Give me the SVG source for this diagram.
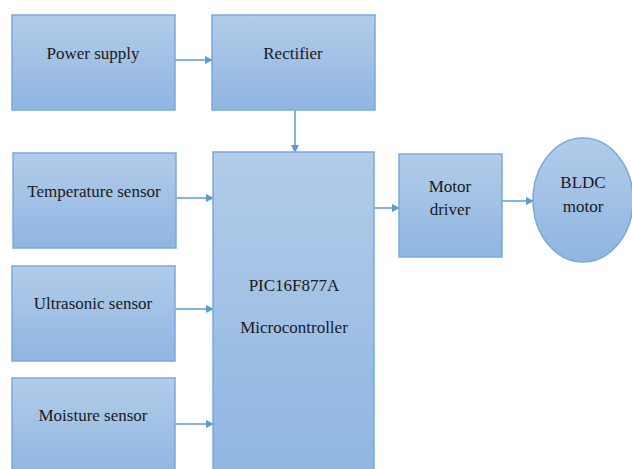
<svg xmlns="http://www.w3.org/2000/svg" width="632" height="469" viewBox="0 0 632 469">
<defs>
<linearGradient id="g" x1="0" y1="0" x2="0" y2="1">
<stop offset="0" stop-color="#b2cce9"/>
<stop offset="1" stop-color="#8fb5e1"/>
</linearGradient>
<marker id="ah" markerWidth="8" markerHeight="8" refX="7" refY="4" orient="auto" markerUnits="userSpaceOnUse">
<path d="M0,0 L8,4 L0,8 Z" fill="#5b9bd5"/>
</marker>
<style>
.box{fill:url(#g);stroke:#7aa9dc;stroke-width:1.5}
.t{font-size:17px;fill:#1a1a1a;text-anchor:middle}
.c{stroke:#5b9bd5;stroke-width:1.5;fill:none;marker-end:url(#ah)}
</style>
</defs>
<rect width="632" height="469" fill="#ffffff"/>
<g id="connectors">
<line class="c" x1="175" y1="60" x2="212" y2="60"/>
<line class="c" x1="295" y1="110" x2="295" y2="152"/>
<line class="c" x1="176" y1="198" x2="213" y2="198"/>
<line class="c" x1="175" y1="309" x2="213" y2="309"/>
<line class="c" x1="175" y1="424" x2="213" y2="424"/>
<line class="c" x1="374" y1="208" x2="399" y2="208"/>
<line class="c" x1="502" y1="201" x2="533" y2="201"/>
</g>
<g font-family="Liberation Serif, DejaVu Serif, serif">
<g id="power-supply">
<rect class="box" x="12" y="15" width="163" height="95"/>
<text class="t" x="93" y="59">Power supply</text>
</g>
<g id="rectifier">
<rect class="box" x="212" y="15" width="163" height="95"/>
<text class="t" x="293" y="59">Rectifier</text>
</g>
<g id="temperature-sensor">
<rect class="box" x="13" y="153" width="163" height="95"/>
<text class="t" x="94" y="197">Temperature sensor</text>
</g>
<g id="ultrasonic-sensor">
<rect class="box" x="12" y="266" width="163" height="95"/>
<text class="t" x="93" y="309">Ultrasonic sensor</text>
</g>
<g id="moisture-sensor">
<rect class="box" x="12" y="378" width="163" height="100"/>
<text class="t" x="93" y="421">Moisture sensor</text>
</g>
<g id="microcontroller">
<rect class="box" x="213" y="152" width="161" height="330"/>
<text class="t" x="294" y="291">PIC16F877A</text>
<text class="t" x="294" y="333">Microcontroller</text>
</g>
<g id="motor-driver">
<rect class="box" x="399" y="154" width="103" height="103"/>
<text class="t" x="450" y="192">Motor</text>
<text class="t" x="450" y="215">driver</text>
</g>
<g id="bldc-motor">
<ellipse class="box" cx="583" cy="200" rx="50" ry="62"/>
<text class="t" x="583" y="188">BLDC</text>
<text class="t" x="583" y="212">motor</text>
</g>
</g>
</svg>
